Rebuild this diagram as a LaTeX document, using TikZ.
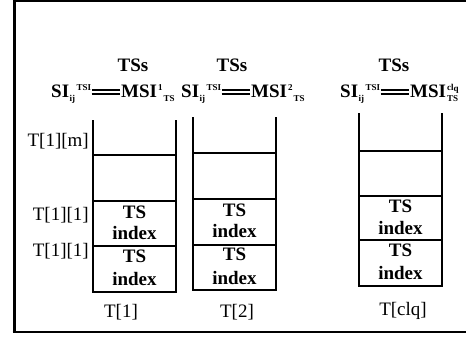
\documentclass[tikz,border=0pt]{standalone}
\usepackage{fontspec}
\setmainfont{Liberation Serif}
\newcommand{\smallf}{\fontsize{9}{9}\selectfont}
\newcommand{\dbl}{\kern0.5pt\rlap{\raisebox{3pt}{\rule{28pt}{1.7pt}}}\raisebox{7pt}{\rule{28pt}{1.7pt}}\kern1.5pt}
\newcommand{\frm}[1]{SI\kern0.5pt\raisebox{-3.5pt}{\smallf ij}\kern1.5pt\raisebox{8pt}{\smallf TSI}\dbl MSI\kern1pt#1}
\begin{document}
\begin{tikzpicture}[x=1pt,y=-1pt,
  lbl/.style={font=\fontsize{19}{19}\selectfont, inner sep=0pt, anchor=base},
  bl/.style={font=\bfseries\fontsize{19}{19}\selectfont, inner sep=0pt, anchor=base},
  wall/.style={line width=2.2pt, line join=miter},
  shelf/.style={line width=2.2pt}]
\useasboundingbox (0,0) rectangle (466,337);
% frame
\draw[line width=1.6pt] (14,1) -- (466,1);
\draw[line width=3pt] (14,0.2) -- (14,333.2);
\draw[line width=2.6pt] (12.5,332) -- (466,332);
% stack 1
\draw[wall] (93,120) -- (93,292) -- (176,292) -- (176,120);
\draw[shelf] (93,155) -- (176,155) (93,201) -- (176,201) (93,246) -- (176,246);
% stack 2
\draw[wall] (193,117) -- (193,290) -- (276,290) -- (276,117);
\draw[shelf] (193,153) -- (276,153) (193,199) -- (276,199) (193,245) -- (276,245);
% stack 3
\draw[wall] (359,113) -- (359,286) -- (442,286) -- (442,113);
\draw[shelf] (359,151) -- (442,151) (359,196) -- (442,196) (359,240) -- (442,240);
% headers
\node[bl] (h1) at (133,72) {TSs};
\node[bl] (h2) at (232,72) {TSs};
\node[bl] (h3) at (394,72) {TSs};
\node[bl, anchor=base west] (f1) at (51,98) {\frm{\raisebox{8pt}{\smallf 1}\kern1pt\raisebox{-3.5pt}{\smallf TS}}};
\node[bl, anchor=base west] (f2) at (181,98) {\frm{\raisebox{8pt}{\smallf 2}\kern1pt\raisebox{-3.5pt}{\smallf TS}}};
\node[bl, anchor=base west] (f3) at (340,98) {\frm{\rlap{\raisebox{-3.5pt}{\smallf TS}}\raisebox{8pt}{\smallf cl\raisebox{-2pt}{q}}}};
% left labels
\node[lbl, anchor=base east] (l1) at (89,146) {T[1][m]};
\node[lbl, anchor=base east] (l2) at (89,220) {T[1][1]};
\node[lbl, anchor=base east] (l3) at (89,256) {T[1][1]};
% cell texts
\node[bl] (a1) at (134.5,218) {TS};
\node[bl] (a2) at (134.5,239) {index};
\node[bl] (a3) at (134.5,262) {TS};
\node[bl] (a4) at (134.5,285) {index};
\node[bl] (b1) at (234.5,216) {TS};
\node[bl] (b2) at (234.5,237) {index};
\node[bl] (b3) at (234.5,260) {TS};
\node[bl] (b4) at (234.5,284) {index};
\node[bl] (c1) at (400.5,212) {TS};
\node[bl] (c2) at (400.5,234) {index};
\node[bl] (c3) at (400.5,256) {TS};
\node[bl] (c4) at (400.5,279) {index};
% bottom labels
\node[lbl] (t1) at (121,317) {T[1]};
\node[lbl] (t2) at (237,317) {T[2]};
\node[lbl] (t3) at (403,315) {T[clq]};
\end{tikzpicture}
\end{document}
